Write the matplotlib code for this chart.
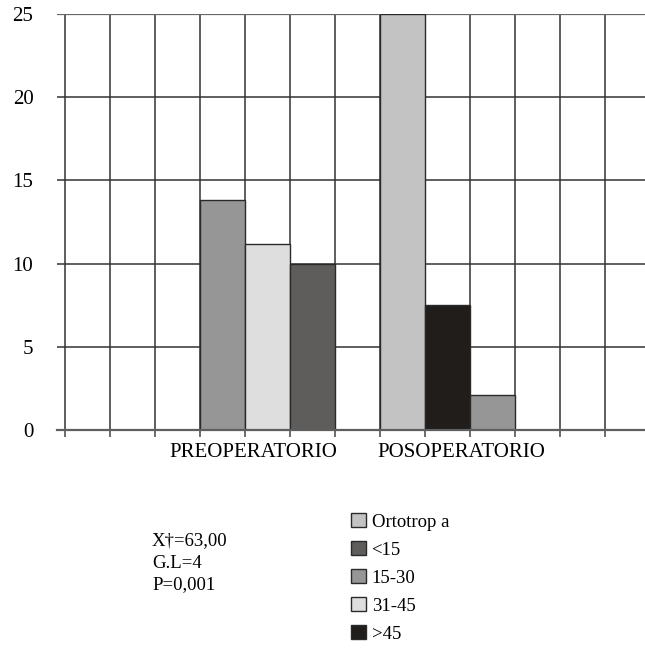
import matplotlib

matplotlib.use("Agg")
import matplotlib.pyplot as plt
from matplotlib.patches import Patch

plt.rcParams["font.family"] = ["Liberation Serif", "DejaVu Serif"]

# data
groups = ["PREOPERATORIO", "POSOPERATORIO"]
pre_cats = ["15-30", "31-45", "<15"]
pre_vals = [13.8, 11.2, 10.0]
pos_cats = ["Ortotrop a", ">45", "15-30"]
pos_vals = [25.0, 7.5, 2.1]
legend_cats = ["Ortotrop a", "<15", "15-30", "31-45", ">45"]
stats = ["X\u2020=63,00", "G.L=4", "P=0,001"]
yticks = [0, 5, 10, 15, 20, 25]

colors = {
    "Ortotrop a": "#c3c3c3",
    "<15": "#5e5d5b",
    "15-30": "#969696",
    "31-45": "#dedede",
    ">45": "#201d1a",
}

fig = plt.figure(figsize=(6.45, 6.5), dpi=100)
ax = fig.add_axes([57 / 645, 220 / 650, 588 / 645, 416 / 650])

# each group starts at a column slot; one column per bar
group_start = [3, 7]
for start, cats, vals in zip(group_start, [pre_cats, pos_cats], [pre_vals, pos_vals]):
    xs = [start + i + 0.5 for i in range(len(cats))]
    ax.bar(xs, vals, width=1.0, color=[colors[c] for c in cats],
           edgecolor="#2a2a2a", linewidth=1.0, zorder=2)

ax.set_xlim(-8 / 45, 580 / 45)
ax.set_ylim(0, 25)
ax.set_xticks(range(13))
ax.set_xticklabels([])
ax.set_yticks(yticks)
ax.set_yticklabels([str(v) for v in yticks], fontsize=15)
ax.tick_params(axis="y", length=0, pad=17)
ax.tick_params(axis="x", length=5, width=1.1, color="#444444", direction="out")
ax.set_axisbelow(True)
ax.grid(True, color="#333333", linewidth=1.1)
ax.get_ygridlines()[-1].set_color("#666666")
ax.get_ygridlines()[-1].set_linewidth(1.6)

for side in ["left", "right", "top"]:
    ax.spines[side].set_visible(False)
ax.spines["bottom"].set_color("#5f5f5f")
ax.spines["bottom"].set_linewidth(1.6)
ax.spines["bottom"].set_zorder(3)

# group captions sit under their bars
trans = ax.get_xaxis_transform()
for x, name in zip([4.18, 8.8], groups):
    ax.text(x, -0.053, name, transform=trans, ha="center", va="center", fontsize=15)

for i, line in enumerate(stats):
    fig.text(152 / 645, 1 - (541 + 22 * i) / 650, line, ha="left", va="center", fontsize=13.5)

handles = [Patch(facecolor=colors[c], edgecolor="#2a2a2a", linewidth=1.0) for c in legend_cats]
fig.legend(handles, legend_cats, loc="upper left", bbox_to_anchor=(351 / 645, 1 - 513 / 650),
           frameon=False, fontsize=13.5, handlelength=0.8, handleheight=0.8,
           handletextpad=0.3, labelspacing=0.55, borderpad=0, borderaxespad=0)

fig.savefig("out.png", dpi=100)
plt.close(fig)
